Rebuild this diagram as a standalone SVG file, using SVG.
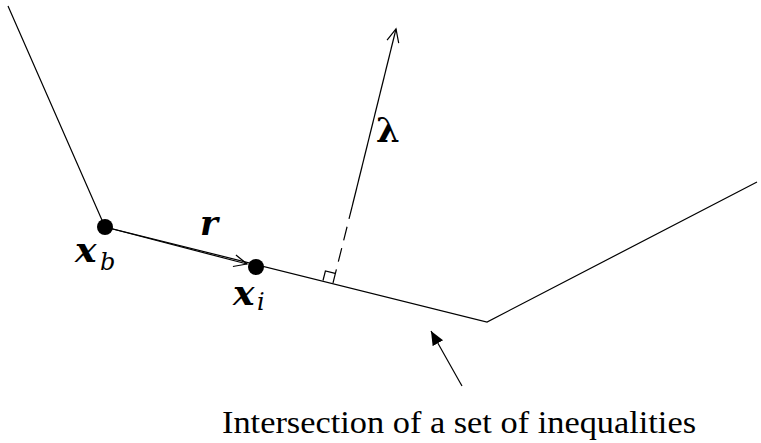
<svg xmlns="http://www.w3.org/2000/svg" width="761" height="443" viewBox="0 0 761 443">
<style>
.ln{fill:none;stroke:#000;stroke-width:1.2}
.dot{fill:#000}
.math{font-family:"DejaVu Serif",serif;font-style:italic;font-weight:bold;fill:#000}
.sub{font-family:"DejaVu Serif",serif;font-style:italic;font-weight:normal;fill:#000}
.lbl{font-family:"Liberation Serif",serif;fill:#000}
</style>
<defs>
<marker id="open" markerWidth="20" markerHeight="20" refX="14" refY="7" orient="auto" markerUnits="userSpaceOnUse">
<path d="M1,1 L14,7 L1,13" fill="none" stroke="#000" stroke-width="1.2"/>
</marker>
<marker id="filled" markerWidth="20" markerHeight="20" refX="14" refY="6" orient="auto" markerUnits="userSpaceOnUse">
<path d="M0,0 L14,6 L0,12 Z" fill="#000"/>
</marker>
</defs>
<g id="connectors">
<polyline id="boundary" class="ln" points="8,6 105,227 487,322 757,182"/>
<line id="r-arrow" class="ln" x1="105" y1="227" x2="247" y2="264" stroke-width="1.6" marker-end="url(#open)"/>
<line id="lambda-dash" class="ln" x1="333" y1="283" x2="352" y2="207" stroke-dasharray="14,8"/>
<line id="lambda-solid" class="ln" x1="352" y1="207" x2="396" y2="29" marker-end="url(#open)"/>
<polyline id="right-angle" class="ln" points="323,280.5 325.4,271 335.1,273.4"/>
<line id="pointer" class="ln" x1="462" y1="386" x2="431" y2="331" marker-end="url(#filled)"/>
</g>
<g id="node-xb">
<circle class="dot" cx="105" cy="227" r="8"/>
<text x="75" y="262" font-size="36" class="math">x</text>
<text x="100" y="270" font-size="24" class="sub">b</text>
</g>
<g id="node-xi">
<circle class="dot" cx="256" cy="267" r="8"/>
<text x="233" y="305" font-size="36" class="math">x</text>
<text x="257" y="310" font-size="24" class="sub">i</text>
</g>
<g id="label-r">
<text x="200" y="235" font-size="34" class="math">r</text>
</g>
<g id="label-lambda">
<text x="376" y="142" font-size="34" font-family="DejaVu Serif, serif" font-weight="bold">λ</text>
</g>
<g id="caption">
<text x="222" y="433" font-size="32" class="lbl" textLength="474" lengthAdjust="spacingAndGlyphs">Intersection of a set of inequalities</text>
</g>
</svg>
